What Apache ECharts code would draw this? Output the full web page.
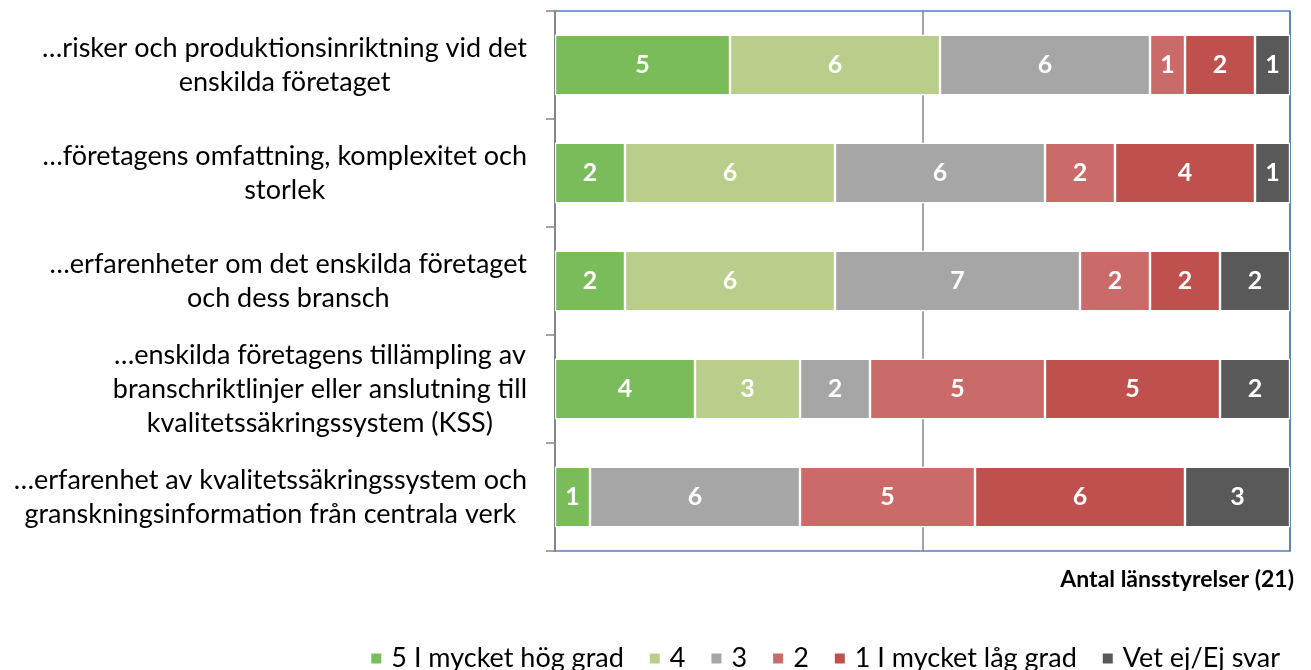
<!DOCTYPE html>
<html><head><meta charset="utf-8">
<script src="https://cdn.jsdelivr.net/npm/echarts@6/dist/echarts.min.js"></script>
<style>html,body{margin:0;padding:0;background:#fff}#c{width:1311px;height:670px}</style>
</head><body><div id="c"></div>
<script>
const categories = [
  "…risker och produktionsinriktning vid det\nenskilda företaget",
  "…företagens omfattning, komplexitet och\nstorlek",
  "…erfarenheter om det enskilda företaget\noch dess bransch",
  "…enskilda företagens tillämpling av\nbranschriktlinjer eller anslutning till\nkvalitetssäkringssystem (KSS)",
  "…erfarenhet av kvalitetssäkringssystem och\ngranskningsinformation från centrala verk"
];
const seriesNames = ["5 I mycket hög grad", "4", "3", "2", "1 I mycket låg grad", "Vet ej/Ej svar"];
const s5 = [5, 2, 2, 4, 1];
const s4 = [6, 6, 6, 3, 0];
const s3 = [6, 6, 7, 2, 6];
const s2 = [1, 2, 2, 5, 5];
const s1 = [2, 4, 2, 5, 6];
const sVet = [1, 1, 2, 2, 3];
const axisTitle = "Antal länsstyrelser (21)";
const total = 21;

const colors = ["#7BBC5A", "#B8CE8A", "#A6A6A6", "#CB6B69", "#C0504D", "#595959"];
const allData = [s5, s4, s3, s2, s1, sVet];

const chart = echarts.init(document.getElementById('c'), null, {renderer: 'canvas'});
chart.setOption({
  animation: false,
  textStyle: {fontFamily: 'Lato'},
  color: colors,
  title: {
    text: axisTitle, right: 12, top: 563,
    textStyle: {fontFamily: 'Lato', fontWeight: 'bold', fontSize: 23, color: '#000'}
  },
  legend: {
    data: seriesNames, right: 26, top: 640,
    icon: 'rect', itemWidth: 12, itemHeight: 12, itemGap: 24,
    textStyle: {fontFamily: 'Lato', fontSize: 27, color: '#000', padding: [0, 0, 0, 4]}
  },
  grid: {
    left: 555, right: 21, top: 11, bottom: 119,
    show: true, borderColor: '#4F81BD', borderWidth: 1.5, backgroundColor: 'transparent'
  },
  xAxis: {
    type: 'value', min: 0, max: total, interval: total / 2,
    axisLabel: {show: false}, axisTick: {show: false}, axisLine: {show: false},
    splitLine: {show: true, lineStyle: {color: ['#868686', '#868686', '#4F81BD'], width: 1.5}}
  },
  yAxis: {
    type: 'category', data: categories, inverse: true,
    axisLine: {show: true, lineStyle: {color: '#868686', width: 1.5}},
    axisTick: {show: true, length: 9, lineStyle: {color: '#868686', width: 1.5}},
    axisLabel: {
      margin: 28, align: 'right', color: '#000', fontSize: 27, lineHeight: 34,
      formatter: v => v.split('\n').map(l => '{c|' + l + '}').join('\n'),
      rich: {c: {align: 'center', fontSize: 27, lineHeight: 34, fontFamily: 'Lato', color: '#000'}}
    }
  },
  series: seriesNames.map((n, i) => ({
    name: n, type: 'bar', stack: 'all', data: allData[i],
    barCategoryGap: '44%',
    itemStyle: {color: colors[i], borderColor: '#fff', borderWidth: 1.2},
    label: {
      show: true, position: 'inside', color: '#fff', fontWeight: 'bold', fontSize: 25,
      fontFamily: 'Lato', formatter: p => p.value === 0 ? '' : String(p.value)
    }
  }))
});
</script></body></html>
